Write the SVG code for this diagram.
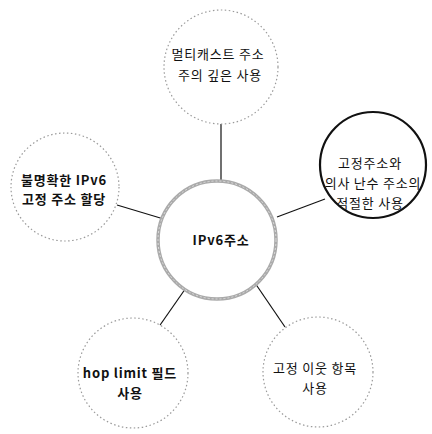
<svg xmlns="http://www.w3.org/2000/svg" width="432" height="434" viewBox="0 0 432 434">
<style>
.dot{fill:#fff;stroke:#9a9a9a;stroke-width:1.2;stroke-dasharray:1.5 2.5}
.t{font-family:"Noto Sans CJK KR","Liberation Sans",sans-serif;font-size:13px;letter-spacing:0.8px;fill:#111;text-anchor:middle}
.b{font-weight:bold}
.c{stroke:#111;stroke-width:1.2}
</style>
<rect width="432" height="434" fill="#fff"/>
<g id="connectors">
<line class="c" x1="221" y1="124" x2="221" y2="182"/>
<line class="c" x1="117" y1="205" x2="167" y2="220"/>
<line class="c" x1="277" y1="217" x2="325" y2="199"/>
<line class="c" x1="188" y1="285" x2="158" y2="328"/>
<line class="c" x1="255" y1="283" x2="285" y2="327"/>
</g>
<g id="center">
<circle cx="217" cy="240" r="59" fill="#fff" stroke="#aaa" stroke-width="3.5"/>
<circle cx="217" cy="240" r="59" fill="none" stroke="#ddd" stroke-width="1" stroke-dasharray="2 2"/>
<text class="t b" x="221" y="245">IPv6주소</text>
</g>
<g id="top">
<circle class="dot" cx="221" cy="67" r="57"/>
<text class="t" x="218" y="59">멀티캐스트 주소</text>
<text class="t" x="220" y="80">주의 깊은 사용</text>
</g>
<g id="left">
<circle class="dot" cx="65" cy="187" r="54"/>
<text class="t b" x="64" y="185">불명확한 IPv6</text>
<text class="t b" x="64" y="204">고정 주소 할당</text>
</g>
<g id="right">
<circle cx="373" cy="165" r="53" fill="#fff" stroke="#111" stroke-width="2.2"/>
<text class="t" x="370" y="168">고정주소와</text>
<text class="t" x="373" y="188">의사 난수 주소의</text>
<text class="t" x="370" y="208">적절한 사용</text>
</g>
<g id="bottomleft">
<circle class="dot" cx="133" cy="373" r="55"/>
<text class="t b" x="130" y="378">hop limit 필드</text>
<text class="t b" x="130" y="398">사용</text>
</g>
<g id="bottomright">
<circle class="dot" cx="318" cy="372" r="55"/>
<text class="t" x="315" y="373">고정 이웃 항목</text>
<text class="t" x="315" y="393">사용</text>
</g>
</svg>
